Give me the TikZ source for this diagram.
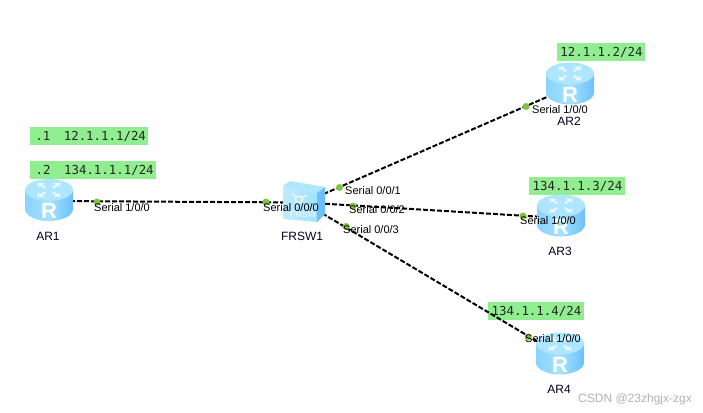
\documentclass[tikz,border=0pt]{standalone}
\usepackage{fontspec}
\setmainfont{Liberation Sans}
\newfontfamily\monof{DejaVu Sans Mono}
\definecolor{ipgreen}{HTML}{90EE90}
\definecolor{dotgreen}{HTML}{7CC63C}
\definecolor{capblue}{HTML}{AEE6FF}
\definecolor{sideL}{HTML}{8AD2FF}
\definecolor{sideM}{HTML}{A4E2FF}
\definecolor{sideR}{HTML}{6CC0FA}
\tikzset{
  x=1pt,y=-1pt,
  anchorpt/.style={inner sep=0pt,minimum size=0pt},
  link/.style={line width=2pt,black,dash pattern=on 5pt off 2pt},
  ipbox/.style={fill=ipgreen,inner sep=0pt,anchor=north west,font=\monof\fontsize{12.4}{14}\selectfont,text=black!85},
  portdot/.style={circle,fill=dotgreen,inner sep=0pt,minimum size=7pt},
  portlabel/.style={anchor=west,inner sep=0pt,font=\fontsize{11}{13}\selectfont,text=black},
  devname/.style={inner sep=0pt,font=\fontsize{12}{14}\selectfont,text=black!85!blue},
  router/.pic={
    \shade[left color=sideL,right color=sideR,middle color=sideM]
      (-24,-10) -- (-24,9) arc[start angle=180,end angle=0,x radius=24,y radius=12] -- (24,-10) -- cycle;
    \fill[capblue] (0,-10) ellipse[x radius=24,y radius=11];
    \foreach \a in {45,135,225,315}{
      \begin{scope}[shift={(0,-10)},yscale=.62,rotate=\a]
        \draw[white,line width=2pt,opacity=.75] (5,0) -- (12,0);
        \fill[white,opacity=.75] (16,0) -- (11,-4.5) -- (11,4.5) -- cycle;
      \end{scope}}
    \node[white,inner sep=0pt,font=\bfseries\fontsize{22}{22}\selectfont] at (0,11) {R};
  },
  fswitch/.pic={
    \fill[capblue] (-21,-16.5) -- (-14,-21.5) -- (21,-15.5) -- (13,-9.5) -- cycle;
    \shade[left color=capblue!80!white,right color=sideM] (-21,-16.5) -- (13,-9.5) -- (13,19.5) -- (-21,16.5) -- cycle;
    \fill[sideR] (13,-9.5) -- (21,-15.5) -- (21,11.5) -- (13,19.5) -- cycle;
    \draw[white,line width=1.2pt,opacity=.85] (-5,-3) circle[radius=3.5];
    \draw[white,line width=1.2pt,opacity=.85] (-12,-9) .. controls (-9,-8) and (-9,-6) .. (-8,-5)
      (3,-7) .. controls (1,-6) and (0,-5) .. (-2,-5);
    \node[white,opacity=.6,inner sep=0pt,font=\bfseries\fontsize{9}{9}\selectfont] at (-1,12) {FRSW};
  }
}
\begin{document}
\begin{tikzpicture}
\useasboundingbox[fill=white] (0,0) rectangle (703,412);
% device anchors
\node[anchorpt] (ar1) at (49,201) {};
\node[anchorpt] (ar2) at (570,87) {};
\node[anchorpt] (ar3) at (561,218) {};
\node[anchorpt] (ar4) at (560,355) {};
\node[anchorpt] (fr) at (304,202.5) {};
% address boxes
\node[ipbox,minimum width=118pt,minimum height=18pt] (ip1a) at (30,127) {\hspace{3pt}.1\hspace{13.5pt}12.1.1.1/24};
\node[ipbox,minimum width=126pt,minimum height=18pt] (ip1b) at (30,161) {\hspace{3pt}.2\hspace{13.5pt}134.1.1.1/24};
\node[ipbox,minimum width=88pt,minimum height=18pt] (ip2) at (557,43) {\hspace{0.5pt}12.1.1.2/24};
\node[ipbox,minimum width=96pt,minimum height=18pt] (ip3) at (529,177) {\hspace{0.5pt}134.1.1.3/24};
\node[ipbox,minimum width=96pt,minimum height=18pt] (ip4) at (488,302) {\hspace{0.5pt}134.1.1.4/24};
% connectors
\draw[link] (ar1) -- (fr);
\draw[link] (fr) -- (ar2);
\draw[link] (fr) -- (ar3);
\draw[link] (fr) -- (ar4);
% icons
\pic at (49,200) {router};
\pic at (570,83.5) {router};
\pic at (561,215.5) {router};
\pic at (560,353.5) {router};
\pic at (304,202.5) {fswitch};
% port dots
\node[portdot] (p1) at (97,202) {};
\node[portdot] (p2) at (266,202) {};
\node[portdot] (p3) at (339.5,187.5) {};
\node[portdot] (p4) at (353,206) {};
\node[portdot] (p5) at (346,226.5) {};
\node[portdot] (p6) at (526,106.5) {};
\node[portdot] (p7) at (523,216) {};
\node[portdot] (p8) at (528,337) {};
% port labels
\node[portlabel] (l1) at (94,208) {Serial 1/0/0};
\node[portlabel] (l2) at (263,208) {Serial 0/0/0};
\node[portlabel] (l3) at (345,191) {Serial 0/0/1};
\node[portlabel] (l4) at (349,210) {Serial 0/0/2};
\node[portlabel] (l5) at (343,230) {Serial 0/0/3};
\node[portlabel] (l6) at (532,110) {Serial 1/0/0};
\node[portlabel] (l7) at (520,221) {Serial 1/0/0};
\node[portlabel] (l8) at (525,339) {Serial 1/0/0};
% device names
\node[devname] (n1) at (48,236) {AR1};
\node[devname] (n2) at (569,121) {AR2};
\node[devname] (n3) at (560,251) {AR3};
\node[devname] (n4) at (559,389) {AR4};
\node[devname] (n5) at (302,236) {FRSW1};
% watermark
\node[inner sep=0pt,text=black!30,font=\fontsize{12}{14}\selectfont] (wm) at (635,399.5) {CSDN @23zhgjx-zgx};
\end{tikzpicture}
\end{document}
